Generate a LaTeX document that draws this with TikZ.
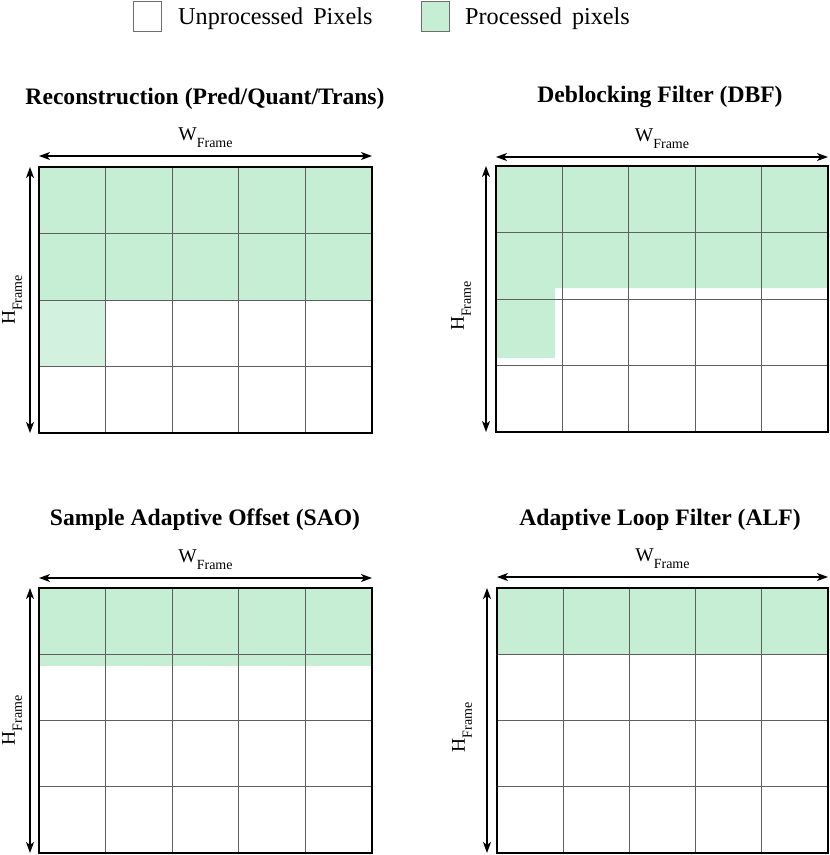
\documentclass[tikz,border=0pt]{standalone}
\usepackage{fontspec}
\setmainfont{Liberation Serif}
\usetikzlibrary{arrows.meta}
\definecolor{proc}{RGB}{197,238,213}
\definecolor{proclight}{RGB}{211,241,223}
\definecolor{gridc}{RGB}{95,95,95}
\definecolor{legc}{RGB}{110,110,110}
\tikzset{
  framebox/.style={draw=black, line width=2.6pt, inner sep=0pt, outer sep=0pt, anchor=north west},
  gridline/.style={draw=gridc, line width=0.8pt},
  dimarrow/.style={line width=1.2pt, {Stealth[length=11pt,width=8pt,inset=3pt]}-{Stealth[length=11pt,width=8pt,inset=3pt]}},
  titletext/.style={font=\fontsize{23.6}{23.6}\selectfont\bfseries, inner sep=0pt},
  legtext/.style={font=\fontsize{24.2}{24.2}\selectfont, inner sep=0pt, anchor=west},
  legbox/.style={draw=legc, line width=0.8pt, minimum width=28pt, minimum height=30pt, inner sep=0pt},
  dimlabel/.style={inner sep=0pt}
}
\newcommand{\WF}{\fontsize{19.5}{19.5}\selectfont W\raisebox{-7pt}{\fontsize{14}{14}\selectfont Frame}}
\newcommand{\HF}{\fontsize{19.5}{19.5}\selectfont H\raisebox{-7pt}{\fontsize{14}{14}\selectfont Frame}}
\begin{document}
\begin{tikzpicture}[x=1pt,y=-1pt]
\useasboundingbox (0,0) rectangle (830,855);

% legend
\node[legbox] (lb1) at (147,16) {};
\node[legtext] (lt1) at (178,19) {Unprocessed\, Pixels};
\node[legbox, fill=proc] (lb2) at (435,16) {};
\node[legtext] (lt2) at (465,19) {Processed\, pixels};

% titles
\node[titletext] (t1) at (205,99) {Reconstruction (Pred/Quant/Trans)};
\node[titletext] (t2) at (660,97) {Deblocking Filter (DBF)};
\node[titletext] (t3) at (205,520) {Sample Adaptive Offset (SAO)};
\node[titletext] (t4) at (660,520) {Adaptive Loop Filter (ALF)};

% ---------- panel 1 ----------
\begin{scope}[shift={(39,167)}]
  \fill[proc] (0,0) rectangle (333,133);
  \fill[proclight] (0,133) rectangle (66.6,199.5);
  \foreach \i in {1,...,4} \draw[gridline] (\i*66.6,0) -- (\i*66.6,266);
  \foreach \j in {1,2,3} \draw[gridline] (0,\j*66.5) -- (333,\j*66.5);
\end{scope}
\node[framebox, minimum width=333pt, minimum height=266pt] (f1) at (39,167) {};

% ---------- panel 2 ----------
\begin{scope}[shift={(496,166)}]
  \fill[proc] (0,0) -- (332,0) -- (332,122) -- (59,122) -- (59,192) -- (0,192) -- cycle;
  \foreach \i in {1,...,4} \draw[gridline] (\i*66.4,0) -- (\i*66.4,266);
  \foreach \j in {1,2,3} \draw[gridline] (0,\j*66.5) -- (332,\j*66.5);
\end{scope}
\node[framebox, minimum width=332pt, minimum height=266pt] (f2) at (496,166) {};

% ---------- panel 3 ----------
\begin{scope}[shift={(39,588)}]
  \fill[proc] (0,0) rectangle (333,78);
  \foreach \i in {1,...,4} \draw[gridline] (\i*66.6,0) -- (\i*66.6,265);
  \foreach \j in {1,2,3} \draw[gridline] (0,\j*66.25) -- (333,\j*66.25);
\end{scope}
\node[framebox, minimum width=333pt, minimum height=265pt] (f3) at (39,588) {};

% ---------- panel 4 ----------
\begin{scope}[shift={(497,588)}]
  \fill[proc] (0,0) rectangle (331,66);
  \foreach \i in {1,...,4} \draw[gridline] (\i*66.2,0) -- (\i*66.2,265);
  \foreach \j in {1,2,3} \draw[gridline] (0,\j*66.25) -- (331,\j*66.25);
\end{scope}
\node[framebox, minimum width=331pt, minimum height=265pt] (f4) at (497,588) {};

% dimension arrows and labels
\foreach \f/\dy/\dx in {f1/11/9, f2/9/10, f3/10/9, f4/11/10}{
  \draw[dimarrow] ([yshift=\dy pt]\f.north west) -- ([yshift=\dy pt]\f.north east);
  \draw[dimarrow] ([xshift=-\dx pt]\f.north west) -- ([xshift=-\dx pt]\f.south west);
}
\node[dimlabel, anchor=base] (w1) at ([yshift=27pt]f1.north) {\WF};
\node[dimlabel, anchor=base] (w2) at ([yshift=25pt]f2.north) {\WF};
\node[dimlabel, anchor=base] (w3) at ([yshift=26pt]f3.north) {\WF};
\node[dimlabel, anchor=base] (w4) at ([yshift=27pt]f4.north) {\WF};
\node[dimlabel, rotate=90] (h1) at ([xshift=-27pt]f1.west) {\HF};
\node[dimlabel, rotate=90] (h2) at ([xshift=-35pt,yshift=-7pt]f2.west) {\HF};
\node[dimlabel, rotate=90] (h3) at ([xshift=-27pt]f3.west) {\HF};
\node[dimlabel, rotate=90] (h4) at ([xshift=-35pt,yshift=-7pt]f4.west) {\HF};
\end{tikzpicture}
\end{document}
